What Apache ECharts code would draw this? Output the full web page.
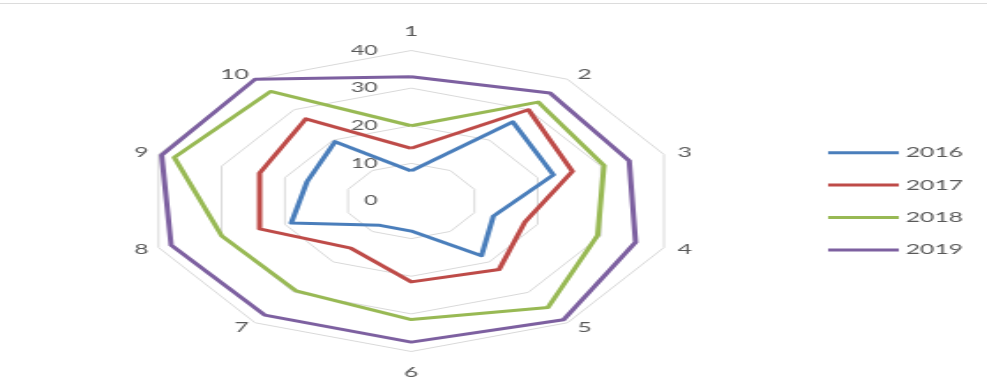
<!DOCTYPE html>
<html>
<head>
<meta charset="utf-8">
<script src="https://cdn.jsdelivr.net/npm/echarts@6/dist/echarts.min.js"></script>
<style>
  html, body { margin: 0; padding: 0; background: #ffffff; }
  #wrap { position: relative; width: 987px; height: 388px; overflow: hidden; background: #ffffff; }
  #topline { position: absolute; left: 0; top: 3px; width: 987px; height: 1px; background: #dcdcdc; }
  #chart { position: absolute; left: 0; top: 0; width: 559px; height: 388px; transform: scaleX(1.7657); transform-origin: 0 0; }
</style>
</head>
<body>
<div id="wrap">
  <div id="topline"></div>
  <div id="chart"></div>
</div>
<script>
// ---- data ----
const categories = ['1', '2', '3', '4', '5', '6', '7', '8', '9', '10'];
const years = ['2016', '2017', '2018', '2019'];
const v2016 = [8, 26, 22.5, 13, 18, 8, 8, 19, 16.5, 19.5];
const v2017 = [14, 30, 25.5, 18, 22.5, 21.5, 15.5, 24, 24, 27];
const v2018 = [20, 32.5, 30.5, 29.5, 35, 31.5, 29.5, 30, 37.5, 36];
const v2019 = [33, 35.5, 34.5, 35.5, 39, 37.5, 37.5, 38, 39.5, 40];
const ringTicks = [0, 10, 20, 30, 40];

const seriesValues = [v2016, v2017, v2018, v2019];
const colors = ['#4A7EBB', '#BE4B48', '#98B954', '#7D60A0'];

// radar lays indicators out counter-clockwise; reorder so 1..10 run clockwise
const order = [0].concat(categories.map((c, i) => i).slice(1).reverse());

const CX = 232.9, CY = 201, R = 150.5;
const FONT = 'Lato';

// label style keys per category position (top, bottom, right side, left side)
function nameStyle(idx) {
  if (idx === 0) return 't';
  if (idx === 5) return 'b';
  if (idx >= 1 && idx <= 4) return 'r';
  return 'l';
}

const chart = echarts.init(document.getElementById('chart'));
chart.setOption({
  animation: false,
  textStyle: { fontFamily: FONT },
  legend: {
    orient: 'vertical',
    left: 469,
    top: 144.7,
    padding: 0,
    data: years,
    icon: 'rect',
    itemWidth: 40,
    itemHeight: 3,
    itemGap: 16.4,
    textStyle: { color: '#595959', fontSize: 14, fontFamily: FONT, lineHeight: 16, padding: [0, 0, 0, -1] }
  },
  radar: {
    center: [CX, CY],
    radius: R,
    startAngle: 90,
    shape: 'polygon',
    splitNumber: ringTicks.length - 1,
    nameGap: 6,
    axisName: {
      color: '#595959', fontSize: 14, fontFamily: FONT,
      formatter: function (name) {
        return '{' + nameStyle(categories.indexOf(name)) + '|' + name + '}';
      },
      rich: {
        t: { color: '#595959', fontSize: 14, fontFamily: FONT, padding: [0, 0, 6, 0] },
        b: { color: '#595959', fontSize: 14, fontFamily: FONT, padding: [8, 0, 0, 0] },
        r: { color: '#595959', fontSize: 14, fontFamily: FONT, padding: [0, 0, 0, 2] },
        l: { color: '#595959', fontSize: 14, fontFamily: FONT }
      }
    },
    indicator: order.map(i => ({ name: categories[i], min: ringTicks[0], max: ringTicks[ringTicks.length - 1] })),
    splitLine: { lineStyle: { color: '#d9d9d9', width: 1 } },
    splitArea: { show: false },
    axisLine: { show: false },
    axisTick: { show: false },
    axisLabel: { show: false }
  },
  polar: { center: [CX, CY], radius: R },
  angleAxis: { type: 'value', min: 0, max: 360, startAngle: 90, show: false },
  radiusAxis: {
    type: 'value',
    min: ringTicks[0],
    max: ringTicks[ringTicks.length - 1],
    interval: ringTicks[1] - ringTicks[0],
    axisLine: { show: false },
    axisTick: { show: false },
    splitLine: { show: false },
    axisLabel: { color: '#595959', fontSize: 13, fontFamily: FONT, margin: 19, padding: [3, 0, 0, 0] }
  },
  series: [{
    type: 'radar',
    symbol: 'none',
    data: years.map((y, k) => ({
      name: y,
      value: order.map(i => seriesValues[k][i]),
      lineStyle: { color: colors[k], width: 3 },
      itemStyle: { color: colors[k] }
    }))
  }]
});
</script>
</body>
</html>
